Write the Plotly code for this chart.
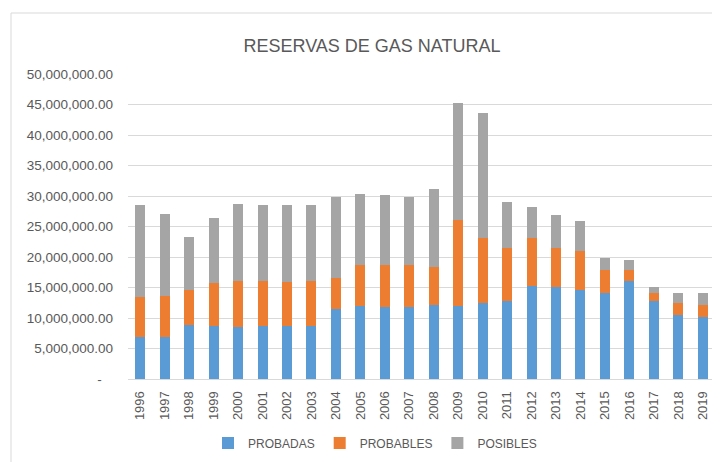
import plotly.graph_objects as go

years = [str(y) for y in range(1996, 2020)]
probadas = [6890000, 6890000, 8850000, 8740000, 8580000, 8740000, 8740000, 8740000,
            11420000, 11970000, 11800000, 11800000, 12190000, 11970000, 12460000, 12730000,
            15300000, 15030000, 14540000, 14040000, 16070000, 12790000, 10490000, 10160000]
probables = [6550000, 6710000, 5790000, 7050000, 7490000, 7330000, 7220000, 7330000,
             5190000, 6720000, 6890000, 6890000, 6170000, 14100000, 10600000, 8800000,
             7760000, 6500000, 6440000, 3880000, 1850000, 1360000, 2020000, 1920000]
posibles = [15030000, 13450000, 8640000, 10600000, 12670000, 12510000, 12620000, 12510000,
            13170000, 11580000, 11470000, 11090000, 12730000, 19230000, 20550000, 7430000,
            5140000, 5360000, 4920000, 1920000, 1590000, 880000, 1640000, 2070000]

series_names = ["PROBADAS", "PROBABLES", "POSIBLES"]
series_colors = ["#5B9BD5", "#ED7D31", "#A5A5A5"]

y_tickvals = [0, 5000000, 10000000, 15000000, 20000000, 25000000,
              30000000, 35000000, 40000000, 45000000, 50000000]
y_ticktext = ["-\u00a0\u00a0\u00a0"] + [f"{v:,.2f}" for v in y_tickvals[1:]]

fig = go.Figure()
for name, vals, col in zip(series_names, [probadas, probables, posibles], series_colors):
    fig.add_trace(go.Bar(x=years, y=vals, name=name, marker_color=col,
                         marker_line_width=0))

font_family = "Liberation Sans, Arial, sans-serif"
txt = "#595959"

W, H = 712, 454
L, R, T, B = 120, 5, 66, 83
pw, ph = W - L - R, H - T - B

fig.update_layout(
    width=W, height=H,
    barmode="stack", bargap=0.59,
    paper_bgcolor="white", plot_bgcolor="white",
    margin=dict(l=L, r=R, t=T, b=B),
    font=dict(family=font_family, color=txt, size=13),
    title=dict(text="RESERVAS DE GAS NATURAL", x=364/W, xref="container", xanchor="center",
               y=1 - 38/H, yref="container", yanchor="middle",
               font=dict(size=18, color=txt, family=font_family)),
    legend=dict(orientation="h", x=(367-L)/pw, xanchor="center",
                y=(T+ph-435)/ph, yanchor="middle", font=dict(size=12, color=txt),
                traceorder="normal"),
    showlegend=True,
)
fig.update_yaxes(range=[0, 50000000], tickvals=y_tickvals, ticktext=y_ticktext,
                 showgrid=True, gridcolor="#D9D9D9", gridwidth=1, zeroline=False,
                 tickfont=dict(size=13.5, color=txt), ticks="", ticklabelstandoff=14,
                 showline=False)
fig.update_xaxes(type="category", tickangle=-90, tickfont=dict(size=13, color=txt),
                 showline=True, linecolor="#D9D9D9", linewidth=1, ticks="",
                 ticklabelstandoff=6, range=[-0.5, 23.5])

fig.add_shape(type="rect", xref="paper", yref="paper",
              x0=(3-L)/pw, x1=(730-L)/pw, y0=(T+ph-475)/ph, y1=(T+ph-5)/ph,
              line=dict(color="#D9D9D9", width=1), fillcolor="rgba(0,0,0,0)", layer="below")

fig.write_html("out.html")
